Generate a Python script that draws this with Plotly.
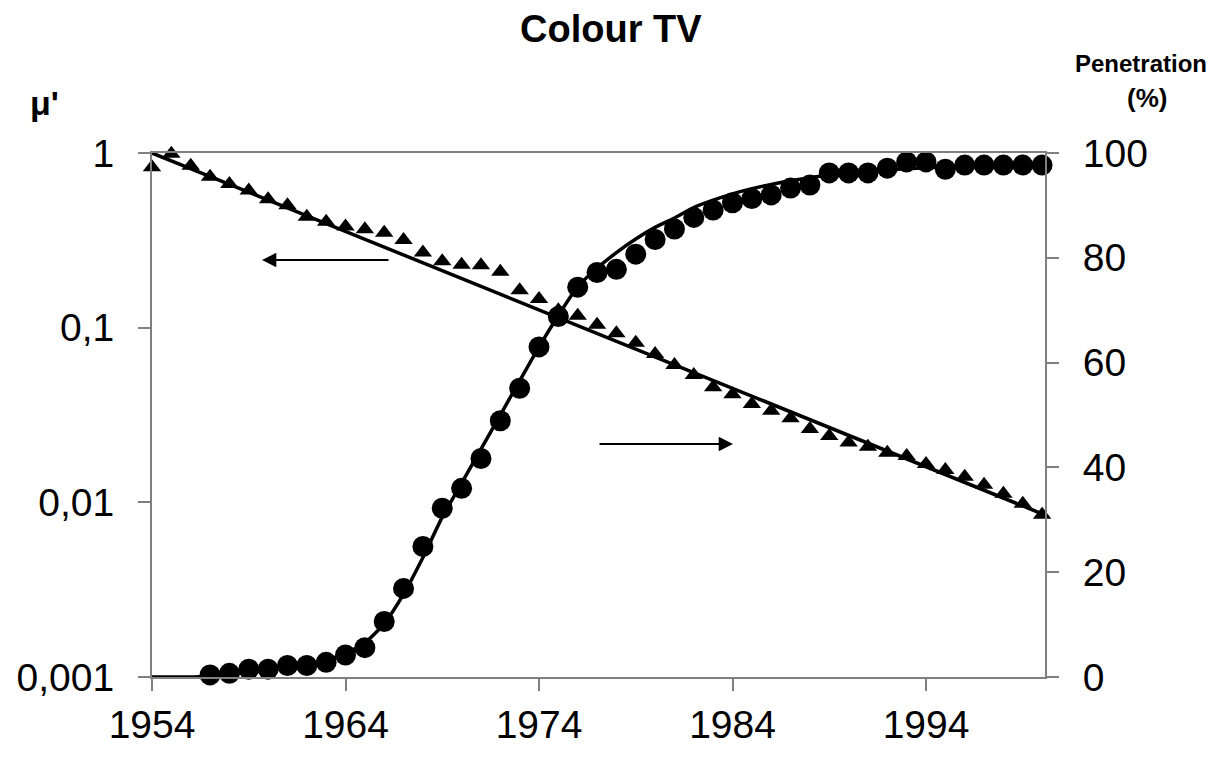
import plotly.graph_objects as go

# ---- data ----
years = list(range(1954, 2001))
mu_prime = [0.83, 0.99, 0.846, 0.732, 0.665, 0.609, 0.543, 0.502, 0.432, 0.404,
            0.379, 0.366, 0.350, 0.318, 0.269, 0.240, 0.229, 0.228, 0.209, 0.164,
            0.146, 0.126, 0.117, 0.104, 0.0929, 0.082, 0.0707, 0.0612, 0.0536, 0.0456,
            0.0416, 0.0366, 0.0334, 0.0303, 0.0263, 0.0240, 0.0220, 0.0208, 0.0192, 0.0184,
            0.0166, 0.0153, 0.0140, 0.0126, 0.0112, 0.0098, 0.0085]

mu_fit_years = [1954, 2000]
mu_fit = [1.0, 0.0086]

pen_years = list(range(1957, 2001))
penetration = [0.4, 0.7, 1.5, 1.5, 2.2, 2.2, 2.8, 4.2, 5.6, 10.6,
               16.9, 24.9, 32.2, 36.0, 41.7, 48.9, 55.1, 63.0, 68.8, 74.4,
               77.2, 77.8, 80.7, 83.5, 85.5, 87.7, 89.1, 90.5, 91.3, 92.0,
               93.3, 93.9, 96.2, 96.2, 96.2, 97.1, 98.3, 98.3, 96.9, 97.7,
               97.7, 97.7, 97.7, 97.7]

pen_fit_years = list(range(1954, 2001))
pen_fit = [0, 0, 0, 0.2, 0.5, 0.9, 1.3, 1.8, 2.4, 3.2,
           4.5, 6.5, 10.2, 15.8, 22.8, 30.5, 37.0, 43.5, 50.0, 56.5,
           63.0, 69.0, 74.5, 78.0, 81.0, 83.6, 85.8, 87.6, 89.6, 91.0,
           92.2, 93.2, 94.0, 94.7, 95.3, 95.8, 96.2, 96.5, 96.8, 97.0,
           97.2, 97.35, 97.5, 97.6, 97.7, 97.8, 97.9]

x_ticks = [1954, 1964, 1974, 1984, 1994]
left_ticks = [0.001, 0.01, 0.1, 1]
left_tick_text = ["0,001", "0,01", "0,1", "1"]
right_ticks = [0, 20, 40, 60, 80, 100]

FONT = "Liberation Sans, Arial, sans-serif"

fig = go.Figure()
fig.add_trace(go.Scatter(x=mu_fit_years, y=mu_fit, mode="lines",
                         line=dict(color="black", width=3.5), yaxis="y",
                         cliponaxis=False, showlegend=False))
fig.add_trace(go.Scatter(x=years, y=mu_prime, mode="markers",
                         marker=dict(symbol="triangle-up", size=16, color="black"),
                         yaxis="y", cliponaxis=False, showlegend=False))
fig.add_trace(go.Scatter(x=pen_fit_years, y=pen_fit, mode="lines",
                         line=dict(color="black", width=3.5, shape="spline", smoothing=0.6),
                         yaxis="y2", cliponaxis=False, showlegend=False))
fig.add_trace(go.Scatter(x=pen_years, y=penetration, mode="markers",
                         marker=dict(symbol="circle", size=21, color="black"),
                         yaxis="y2", cliponaxis=False, showlegend=False))

OFF = 8  # page body margin
W, H = 1218 - 2 * OFF, 760 - 2 * OFF
# target plot area in screenshot pixels
PL, PR, PT, PB = 152, 1045, 153, 677
L, T = PL - OFF, PT - OFF
R, B = W - (PR - OFF), H - (PB - OFF)
pw, ph = PR - PL, PB - PT

def px(xp):
    return (xp - PL) / pw

def py(yp):
    return (PB - yp) / ph

axis_common = dict(showgrid=False, zeroline=False, linecolor="#808080", linewidth=2,
                   ticks="outside", tickcolor="#808080", tickwidth=2, ticklen=12,
                   tickfont=dict(family=FONT, size=39, color="black"))

fig.update_layout(
    width=W, height=H,
    margin=dict(l=L, r=R, t=T, b=B, pad=0, autoexpand=False),
    paper_bgcolor="white", plot_bgcolor="white",
    xaxis=dict(range=[1954, 2000.15], tickvals=x_ticks, mirror=True, **axis_common),
    yaxis=dict(type="log", range=[-3, 0], tickvals=left_ticks, ticktext=left_tick_text,
               ticklabelstandoff=16, **axis_common),
    yaxis2=dict(range=[0, 100], tickvals=right_ticks, overlaying="y", side="right",
                ticklabelstandoff=16, **axis_common),
    annotations=[
        dict(text="<b>Colour TV</b>", x=px(611), y=py(29), xref="paper", yref="paper",
             xanchor="center", yanchor="middle",
             showarrow=False, font=dict(family=FONT, size=38, color="black")),
        dict(text="<b>μ'</b>", x=px(44), y=py(103), xref="paper", yref="paper",
             xanchor="center", yanchor="middle",
             showarrow=False, font=dict(family=FONT, size=34, color="black")),
        dict(text="<b>Penetration</b>", x=px(1141), y=py(63), xref="paper", yref="paper",
             xanchor="center", yanchor="middle",
             showarrow=False, font=dict(family=FONT, size=24, color="black")),
        dict(text="<b>(%)</b>", x=px(1147), y=py(98), xref="paper", yref="paper",
             xanchor="center", yanchor="middle",
             showarrow=False, font=dict(family=FONT, size=26, color="black")),
        dict(text="", x=px(262), y=py(260), xref="paper", yref="paper",
             showarrow=True, ax=128, ay=0, arrowhead=2, arrowsize=1.3, arrowwidth=2.2,
             arrowcolor="black"),
        dict(text="", x=px(733), y=py(444), xref="paper", yref="paper",
             showarrow=True, ax=-135, ay=0, arrowhead=2, arrowsize=1.3, arrowwidth=2.2,
             arrowcolor="black"),
    ],
)

fig.write_html("out.html")
